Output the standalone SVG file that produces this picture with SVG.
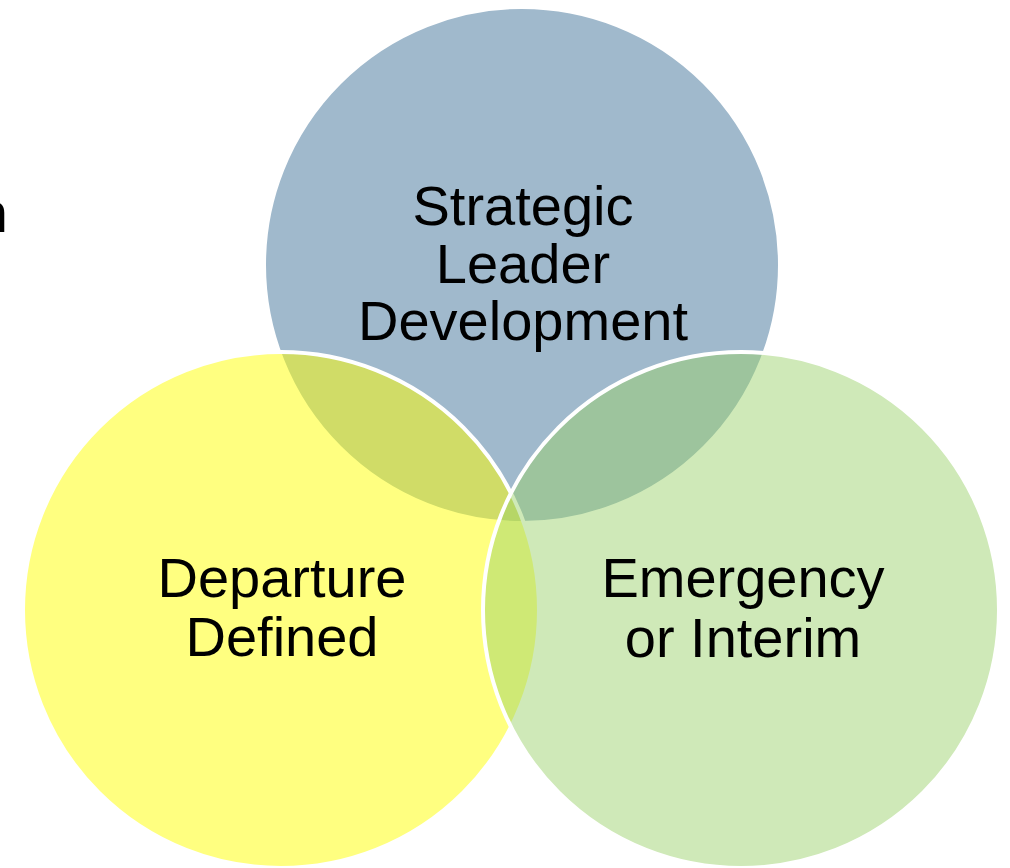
<svg xmlns="http://www.w3.org/2000/svg" width="1010" height="868" viewBox="0 0 1010 868">
<style>
.c{stroke:#FFFFFF;stroke-width:4;}
.t{font-family:"Liberation Sans",Arial,sans-serif;font-size:56px;fill:#000000;text-anchor:middle;}
</style>
<rect width="1010" height="868" fill="#FFFFFF"/>
<text x="8" y="232" class="t" style="text-anchor:end">n</text>
<g id="node-strategic">
<circle class="c" cx="522" cy="265" r="258" fill="#417399" fill-opacity="0.5"/>
<text class="t" x="523" y="225">Strategic</text>
<text class="t" x="523" y="283">Leader</text>
<text class="t" x="523" y="340">Development</text>
</g>
<g id="node-departure">
<circle class="c" cx="281" cy="610" r="258" fill="#FFFF01" fill-opacity="0.5"/>
<text class="t" x="282" y="597">Departure</text>
<text class="t" x="282" y="656">Defined</text>
</g>
<g id="node-emergency">
<circle class="c" cx="741" cy="610" r="258" fill="#9AD068" fill-opacity="0.47"/>
<text class="t" x="743" y="597">Emergency</text>
<text class="t" x="743" y="657">or Interim</text>
</g>
<g id="connectors"></g>
</svg>
